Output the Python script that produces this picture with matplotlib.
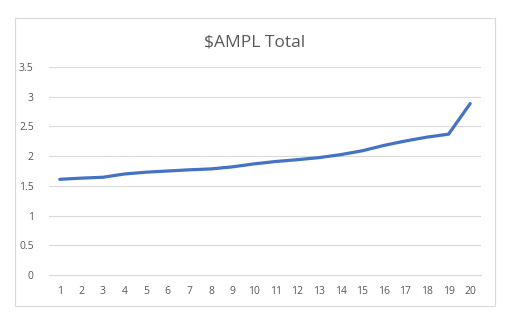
import matplotlib
matplotlib.use("Agg")
import matplotlib.pyplot as plt
from matplotlib.patches import Rectangle

x_labels = [str(i) for i in range(1, 21)]
values = [1.61, 1.63, 1.645, 1.70, 1.73, 1.75, 1.77, 1.785, 1.82, 1.87,
          1.91, 1.94, 1.975, 2.025, 2.09, 2.18, 2.255, 2.32, 2.37, 2.885]
y_ticks = [0, 0.5, 1, 1.5, 2, 2.5, 3, 3.5]
y_tick_labels = ["0", "0.5", "1", "1.5", "2", "2.5", "3", "3.5"]
title = "$AMPL Total"

W, H = 521, 335
fig = plt.figure(figsize=(W / 100, H / 100), dpi=100)
fig.patch.set_facecolor("white")

# outer chart border
fig.patches.append(Rectangle((15 / W, 1 - 306 / H), (495 - 15) / W, (306 - 18) / H,
                             transform=fig.transFigure, fill=False,
                             edgecolor="#D9D9D9", linewidth=0.8))

left, right, top, bottom = 49, 481, 67, 275
ax = fig.add_axes([left / W, 1 - bottom / H, (right - left) / W, (bottom - top) / H])
xs = list(range(1, len(values) + 1))
ax.plot(xs, values, color="#4472C4", linewidth=2.3, solid_capstyle="round",
        solid_joinstyle="round", zorder=3)
ax.set_xlim(0.5, len(values) + 0.5)
ax.set_ylim(0, 3.5)
ax.set_yticks(y_ticks)
ax.set_yticklabels(y_tick_labels)
ax.set_xticks(xs)
ax.set_xticklabels(x_labels)
ax.grid(axis="y", color="#D9D9D9", linewidth=0.8)
ax.set_axisbelow(True)
for s in ["top", "right", "left"]:
    ax.spines[s].set_visible(False)
ax.spines["bottom"].set_color("#D9D9D9")
ax.spines["bottom"].set_linewidth(0.8)
ax.tick_params(axis="both", length=0, colors="#595959", labelsize=7.5)
ax.tick_params(axis="y", pad=11)
ax.tick_params(axis="x", pad=8)
for lab in ax.get_xticklabels() + ax.get_yticklabels():
    lab.set_family(["Open Sans", "DejaVu Sans"])

fig.text(255 / W, 1 - 42 / H, title, ha="center", va="center",
         fontsize=12.5, color="#595959", family=["Open Sans", "DejaVu Sans"])

fig.savefig("out.png", dpi=100)
